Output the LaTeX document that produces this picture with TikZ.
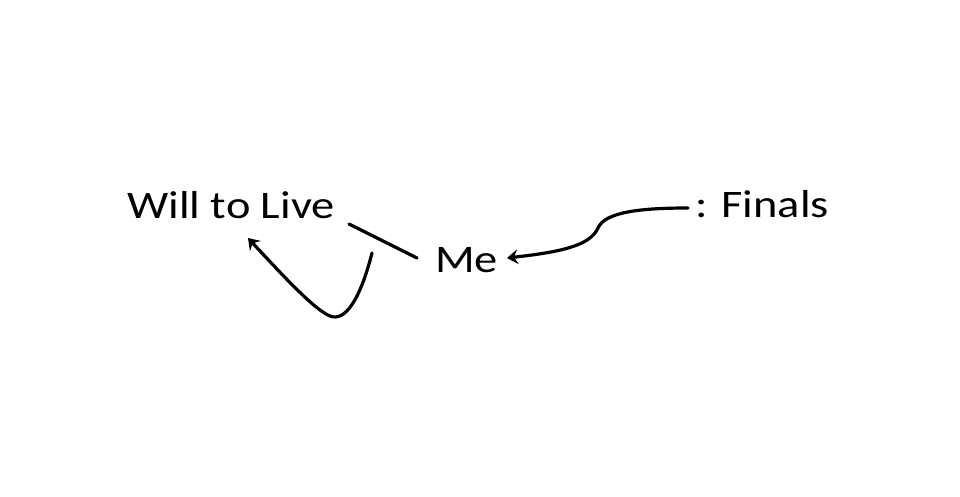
\documentclass[tikz,border=0pt]{standalone}
\usepackage{fontspec}
\setmainfont{Carlito}[FakeStretch=1.19]
\usetikzlibrary{arrows.meta}
\begin{document}
\begin{tikzpicture}[x=1pt,y=-1pt,
  lbl/.style={inner sep=0pt,anchor=base west,font=\fontsize{39}{44}\selectfont},
  conn/.style={line width=3.2pt,line cap=round},
  arr/.style={conn,-{Stealth[length=11pt,width=15pt,inset=4pt]}}]
\useasboundingbox[fill=white] (0,0) rectangle (960,496);
\node[lbl] (will) at (127,218) {Will to Live};
\node[lbl] (me) at (435,272) {Me};
\node[lbl] (fin) at (695,217) {: Finals};
\coordinate (ls) at (349,224);
\coordinate (le) at (417,258);
\draw[conn] (ls) -- (le);
\coordinate (cs) at (372,253);
\coordinate (ce) at (248,238);
\draw[arr] (cs) .. controls (360,300) and (345,322) .. (330,316)
  .. controls (315,310) and (285,278) .. (ce);
\coordinate (fs) at (688,208);
\coordinate (fe) at (507,258);
\draw[arr] (fs) .. controls (640,208) and (605,212) .. (598,228)
  .. controls (590,246) and (560,252) .. (fe);
\end{tikzpicture}
\end{document}
